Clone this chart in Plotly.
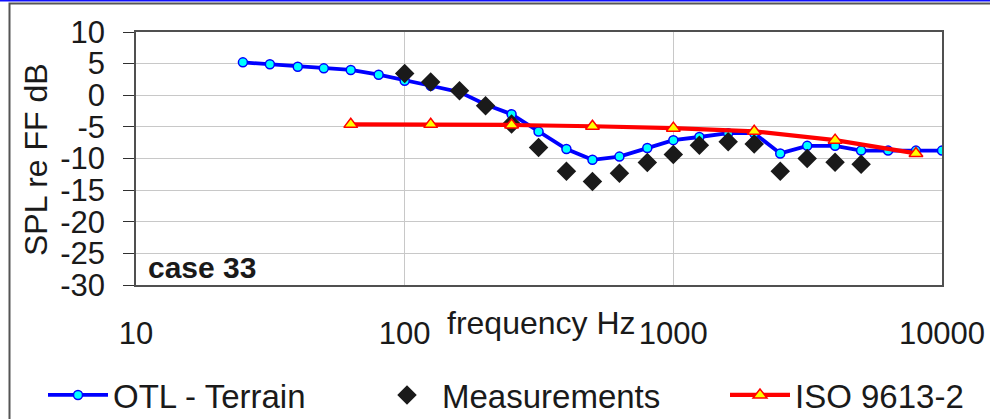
import plotly.graph_objects as go

# Third-octave band centre frequencies (Hz)
otl_freq = [25, 31.5, 40, 50, 63, 80, 100, 125, 160, 200, 250, 315, 400, 500,
            630, 800, 1000, 1250, 1600, 2000, 2500, 3150, 4000, 5000, 6300, 8000, 10000]
otl_spl = [5.2, 4.9, 4.5, 4.25, 4.0, 3.25, 2.3, 1.5, 0.5, -1.45, -3.0, -5.75, -8.5, -10.2,
           -9.7, -8.35, -7.1, -6.6, -6.0, -6.0, -9.2, -8.0, -8.0, -8.75, -8.75, -8.75, -8.75]

meas_freq = [100, 125, 160, 200, 250, 315, 400, 500, 630, 800, 1000, 1250, 1600,
             2000, 2500, 3150, 4000, 5000]
meas_spl = [3.45, 2.1, 0.7, -1.65, -4.55, -8.25, -12.0, -13.65, -12.35, -10.65, -9.35,
            -7.9, -7.35, -7.7, -12.0, -10.0, -10.6, -10.9]

iso_freq = [63, 125, 250, 500, 1000, 2000, 4000, 8000]
iso_spl = [-4.6, -4.6, -4.7, -4.9, -5.2, -5.7, -7.1, -9.2]

x_tick_vals = [10, 100, 1000, 10000]
x_tick_text = ["10", "100", "1000", "10000"]
y_tick_vals = [10, 5, 0, -5, -10, -15, -20, -25, -30]
y_tick_text = ["10", "5", "0", "-5", "-10", "-15", "-20", "-25", "-30"]

FONT = "Liberation Sans, Arial, sans-serif"
FS = 31
LEG_FS = 33
INK = "#1a1a1a"

fig = go.Figure()

fig.add_trace(go.Scatter(
    x=otl_freq, y=otl_spl, name="OTL - Terrain", mode="lines+markers",
    line=dict(color="#0000FF", width=3.8),
    marker=dict(symbol="circle", size=9, color="#00FFFF",
                line=dict(color="#0000FF", width=1.5)),
    legend="legend",
))
fig.add_trace(go.Scatter(
    x=meas_freq, y=meas_spl, name="Measurements", mode="markers",
    marker=dict(symbol="diamond", size=15, color=INK),
    legend="legend2",
))
fig.add_trace(go.Scatter(
    x=iso_freq, y=iso_spl, name="ISO 9613-2", mode="lines+markers",
    line=dict(color="#FF0000", width=4.2),
    marker=dict(symbol="triangle-up", size=12, color="#FFFF00",
                line=dict(color="#FF0000", width=1.5)),
    legend="legend3",
))

W, H = 990, 419
ML, MR, MT, MB = 136, 48, 32, 134
PW, PH = W - ML - MR, H - MT - MB


def px(x):
    return (x - ML) / PW


def py(y):
    return (H - MB - y) / PH


legend_common = dict(orientation="h", yanchor="middle", xanchor="left",
                     xref="container", yref="container", y=1 - 395 / H,
                     itemwidth=60,
                     font=dict(family=FONT, size=LEG_FS, color=INK),
                     bgcolor="rgba(0,0,0,0)", borderwidth=0)

fig.update_layout(
    width=W, height=H, autosize=False, showlegend=True,
    margin=dict(l=ML, r=MR, t=MT, b=MB, pad=0, autoexpand=False),
    paper_bgcolor="white", plot_bgcolor="white",
    font=dict(family=FONT, size=FS, color=INK),
    xaxis=dict(
        type="log", range=[1, 4], tickvals=x_tick_vals, ticktext=x_tick_text,
        showgrid=True, gridcolor="#c8c8c8", gridwidth=1,
        showline=True, linecolor="#505050", linewidth=1.5, mirror=True,
        ticks="", ticklabelstandoff=20,
        tickfont=dict(family=FONT, size=FS, color=INK),
    ),
    xaxis2=dict(
        type="log", range=[1, 4], overlaying="x", anchor="free", position=0.75,
        showline=True, linecolor="#000000", linewidth=1,
        ticks="outside", ticklen=10, tickcolor="#303030", tickwidth=1,
        tickvals=[100, 1000], showticklabels=False, showgrid=False,
    ),
    yaxis=dict(
        range=[-30, 10], tickvals=y_tick_vals, ticktext=y_tick_text,
        showgrid=True, gridcolor="#c8c8c8", gridwidth=1, zeroline=False,
        showline=True, linecolor="#505050", linewidth=1.5, mirror=True,
        ticks="outside", ticklen=11, tickcolor="#303030", tickwidth=1,
        ticklabelstandoff=12,
        tickfont=dict(family=FONT, size=FS, color=INK),
    ),
    legend=dict(x=43 / W, **legend_common),
    legend2=dict(x=372 / W, **legend_common),
    legend3=dict(x=725 / W, **legend_common),
    annotations=[
        dict(text="frequency Hz", xref="paper", yref="paper", x=px(541), y=py(323),
             xanchor="center", yanchor="middle", showarrow=False,
             font=dict(family=FONT, size=32, color=INK)),
        dict(text="<b>case 33</b>", xref="paper", yref="paper", x=px(146), y=py(267),
             xanchor="left", yanchor="middle", showarrow=False,
             font=dict(family=FONT, size=FS - 1, color=INK)),
        dict(text="SPL re FF dB", xref="paper", yref="paper", x=px(36), y=py(160),
             xanchor="center", yanchor="middle", textangle=-90, showarrow=False,
             font=dict(family=FONT, size=32, color=INK)),
    ],
    shapes=[
        # outer chart frame
        dict(type="rect", xref="paper", yref="paper",
             x0=px(9.5), x1=px(1010), y0=py(3.5), y1=py(440),
             line=dict(color="#555555", width=2), fillcolor="rgba(0,0,0,0)", layer="below"),
        # window accent line along the top edge
        dict(type="line", xref="paper", yref="paper",
             x0=px(0), x1=px(990), y0=py(0.7), y1=py(0.7),
             line=dict(color="#1010ff", width=1.5)),
    ],
)

fig.write_html("out.html")
